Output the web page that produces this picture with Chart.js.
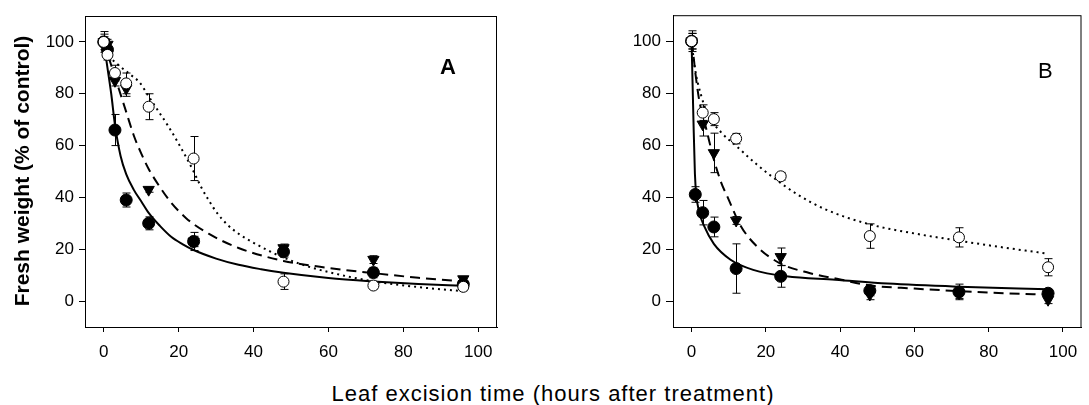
<!DOCTYPE html>
<html>
<head>
<meta charset="utf-8">
<script src="https://cdn.jsdelivr.net/npm/chart.js@4.4.1/dist/chart.umd.min.js"></script>
<style>
    body {
        margin: 0;
        background: #fff;
        width: 1089px;
        height: 405px;
        position: relative;
        overflow: hidden;
        font-family: Arial, "Liberation Sans", Helvetica, sans-serif;
        color: #000;
    }
    canvas { position: absolute; top: 0; }
    #panelA { left: 0; }
    #panelB { left: 590px; }
    .letra {
        position: absolute;
        font-size: 22px;
        line-height: 22px;
    }
    #tituloY {
        position: absolute;
        left: -178px;
        top: 160px;
        width: 400px;
        text-align: center;
        font-size: 21px;
        line-height: 22px;
        font-weight: bold;
        transform: rotate(-90deg);
    }
    #tituloX {
        position: absolute;
        left: 253px;
        top: 383px;
        width: 600px;
        text-align: center;
        font-size: 22px;
        line-height: 22px;
        letter-spacing: 1px;
    }
</style>
</head>
<body>
<canvas id="panelA" width="510" height="370"></canvas>
<canvas id="panelB" width="499" height="370"></canvas>
<div id="tituloY">Fresh weight (% of control)</div>
<div id="tituloX">Leaf excision time (hours after treatment)</div>
<div class="letra" style="left:440px; top:56px; font-weight:bold;">A</div>
<div class="letra" style="left:1038px; top:60px;">B</div>

<script>
const HORAS = [0, 1, 3, 6, 12, 24, 48, 72, 96];
const MARCAS_X = [0, 20, 40, 60, 80, 100];
const MARCAS_Y = [0, 20, 40, 60, 80, 100];

// Panel A: medias y errores
const aLlenoY = [100, 97, 66, 39, 30, 23, 19, 11, 6.5];
const aLlenoErr = [3, 2, 6, 2.7, 2.5, 3.5, 2, 2, 1];
const aTrianguloY = [100, 99, 85, 82, 43, 23, 20.5, 16, 8.5];
const aTrianguloErr = [4, 2, 2, 3, 1, 2, 1.5, 1.5, 1];
const aAbiertoY = [100, 95, 88, 84, 75, 55, 7.5, 6, 5.5];
const aAbiertoErr = [2, 2, 3, 4, 5, 8.5, 3, 1.5, 1.5];

// Panel B
const bLlenoY = [100, 41, 34, 28.5, 12.5, 9.5, 4, 3.5, 3];
const bLlenoErr = [4, 3, 4.7, 3.8, 9.5, 4.2, 2, 3, 1.5];
const bTrianguloY = [100, null, 68, 57, 31, 17, 2.5, 3, 0.5];
const bTrianguloErr = [3, 0, 4.5, 7.6, 1.5, 3.4, 2, 2, 1.5];
const bAbiertoY = [100, null, 72.5, 70, 62.5, 48, 25, 24.5, 13];
const bAbiertoErr = [3, 0, 3, 2.5, 2, 1.5, 4.7, 3.7, 3.3];

// Curvas ajustadas
const curvaALlenoX = [0, 1, 2, 3, 4.5, 6, 8, 10, 12, 15, 18, 21, 24, 30, 36, 42, 48, 60, 72, 84, 96];
const curvaALlenoY = [100, 90, 80, 68, 56, 49, 43, 38.5, 34, 29, 24.8, 22, 19.7, 16.4, 14, 12.3, 10.9, 8.9, 7.6, 6.6, 5.9];
const curvaAGuionX = [0, 2, 4, 6, 8, 10, 12, 15, 18, 22, 28, 36, 48, 60, 72, 84, 96];
const curvaAGuionY = [100, 91, 82, 73, 64, 57, 51, 44, 38, 32, 26, 20.5, 15.5, 12.8, 10.8, 9, 7.6];
const curvaAPuntosX = [0, 2, 4, 7, 9.5, 12, 14.5, 17, 19.5, 22, 24, 26, 28, 30, 33, 36, 40, 47, 54, 60, 72, 84, 96];
const curvaAPuntosY = [96, 93.5, 91, 87.5, 84.5, 79, 73.5, 68, 62, 55.5, 50, 44, 39, 34.5, 29.5, 26, 22.5, 17.4, 13.6, 11.2, 7.6, 5.4, 3.8];

const curvaBLlenoX = [0, 0.5, 0.9, 1.3, 2, 3.4, 6, 10.5, 16.6, 25.5, 38.7, 52.8, 72, 96];
const curvaBLlenoY = [100, 70, 49, 40.5, 34.5, 28.8, 22, 15.9, 12, 9.5, 8.2, 6.7, 5.5, 4.5];
const curvaBGuionX = [0, 0.4, 1, 2.1, 4, 6, 8, 9.7, 13.2, 17.6, 23.7, 31.7, 40.4, 48, 60, 72, 84, 96];
const curvaBGuionY = [100, 96, 88, 77, 66, 54.5, 45.5, 40, 29, 21, 14.6, 10.8, 8.2, 6, 4.8, 3.8, 3, 2.4];
const curvaBPuntosX = [0, 0.9, 2.6, 4.4, 7.9, 12.3, 17.6, 21, 28.5, 36, 48, 60, 72, 84, 96];
const curvaBPuntosY = [100, 89.6, 79, 71.7, 65, 59.3, 52.5, 48.6, 41, 35.3, 29.5, 26, 23.2, 20.6, 18.2];

const FUENTE = "Arial, 'Liberation Sans', Helvetica, sans-serif";

function puntos(xs, ys) {
    return xs.map((x, i) => ({ x: x, y: ys[i] }));
}

function serieMarcadores(ys, errores, estilo) {
    return Object.assign({
        type: "scatter",
        data: puntos(HORAS, ys),
        errores: errores,
        showLine: false,
        borderColor: "#000",
        borderWidth: 1
    }, estilo);
}

function serieCurva(xs, ys, guiones) {
    return {
        type: "line",
        data: puntos(xs, ys),
        borderColor: "#000",
        borderWidth: 2,
        borderDash: guiones,
        pointRadius: 0,
        fill: false,
        cubicInterpolationMode: "monotone"
    };
}

const barrasYMarco = {
    id: "barrasYMarco",
    beforeDatasetsDraw(chart) {
        const ctx = chart.ctx;
        const ejeX = chart.scales.x;
        const ejeY = chart.scales.y;
        ctx.save();
        ctx.strokeStyle = "#000";
        ctx.lineWidth = 1;
        chart.data.datasets.forEach(ds => {
            if (!ds.errores) return;
            ds.data.forEach((p, i) => {
                const e = ds.errores[i];
                if (p.y === null || !e) return;
                const px = Math.round(ejeX.getPixelForValue(p.x)) + 0.5;
                const arriba = ejeY.getPixelForValue(p.y + e);
                const abajo = ejeY.getPixelForValue(p.y - e);
                ctx.beginPath();
                ctx.moveTo(px, arriba);
                ctx.lineTo(px, abajo);
                ctx.moveTo(px - 4, arriba);
                ctx.lineTo(px + 4, arriba);
                ctx.moveTo(px - 4, abajo);
                ctx.lineTo(px + 4, abajo);
                ctx.stroke();
            });
        });
        ctx.restore();
    },
    afterDraw(chart) {
        const a = chart.chartArea;
        const ctx = chart.ctx;
        ctx.save();
        ctx.strokeStyle = "#000";
        ctx.lineWidth = 1;
        ctx.strokeRect(a.left + 0.5, a.top + 0.5, a.right - a.left - 1, a.bottom - a.top);
        ctx.restore();
    }
};

function crearPanel(idCanvas, series, curvas, anchoEjeY, margenDer, margenSup, largoMarcaY) {
    const lienzo = document.getElementById(idCanvas);
    const [lleno, llenoErr, tri, triErr, abierto, abiertoErr] = series;

    const datasets = [
        serieMarcadores(abierto, abiertoErr, {
            pointStyle: "circle", pointRadius: 5.5, backgroundColor: "#fff"
        }),
        serieMarcadores(tri, triErr, {
            pointStyle: "triangle", rotation: 180, pointRadius: 6.5, backgroundColor: "#000"
        }),
        serieMarcadores(lleno, llenoErr, {
            pointStyle: "circle", pointRadius: 6, backgroundColor: "#000"
        }),
        serieCurva(curvas[0], curvas[1], []),
        serieCurva(curvas[2], curvas[3], [10, 6]),
        serieCurva(curvas[4], curvas[5], [2, 4])
    ];

    new Chart(lienzo, {
        data: { datasets: datasets },
        plugins: [barrasYMarco],
        options: {
            responsive: false,
            animation: false,
            layout: { padding: { top: margenSup, right: margenDer, left: 0, bottom: 0 } },
            plugins: {
                legend: { display: false },
                tooltip: { enabled: false }
            },
            scales: {
                x: {
                    type: "linear",
                    min: -5,
                    max: 105,
                    afterBuildTicks: eje => { eje.ticks = MARCAS_X.map(v => ({ value: v })); },
                    afterFit: eje => { eje.height = 43; },
                    grid: { drawOnChartArea: false, drawTicks: true, tickLength: 5, color: "#000" },
                    border: { display: true, color: "#000" },
                    ticks: { color: "#000", padding: 10, maxRotation: 0, font: { family: FUENTE, size: 17 } }
                },
                y: {
                    type: "linear",
                    min: -10,
                    max: 110,
                    afterBuildTicks: eje => { eje.ticks = MARCAS_Y.map(v => ({ value: v })); },
                    afterFit: eje => { eje.width = anchoEjeY; },
                    grid: { drawOnChartArea: false, drawTicks: true, tickLength: largoMarcaY, color: "#000" },
                    border: { display: true, color: "#000" },
                    ticks: { color: "#000", padding: 5, font: { family: FUENTE, size: 17 } }
                }
            }
        }
    });
}

crearPanel("panelA",
    [aLlenoY, aLlenoErr, aTrianguloY, aTrianguloErr, aAbiertoY, aAbiertoErr],
    [curvaALlenoX, curvaALlenoY, curvaAGuionX, curvaAGuionY, curvaAPuntosX, curvaAPuntosY],
    85, 13, 16, 6);

crearPanel("panelB",
    [bLlenoY, bLlenoErr, bTrianguloY, bTrianguloErr, bAbiertoY, bAbiertoErr],
    [curvaBLlenoX, curvaBLlenoY, curvaBGuionX, curvaBGuionY, curvaBPuntosX, curvaBPuntosY],
    83, 1, 13, 7);
</script>
</body>
</html>
